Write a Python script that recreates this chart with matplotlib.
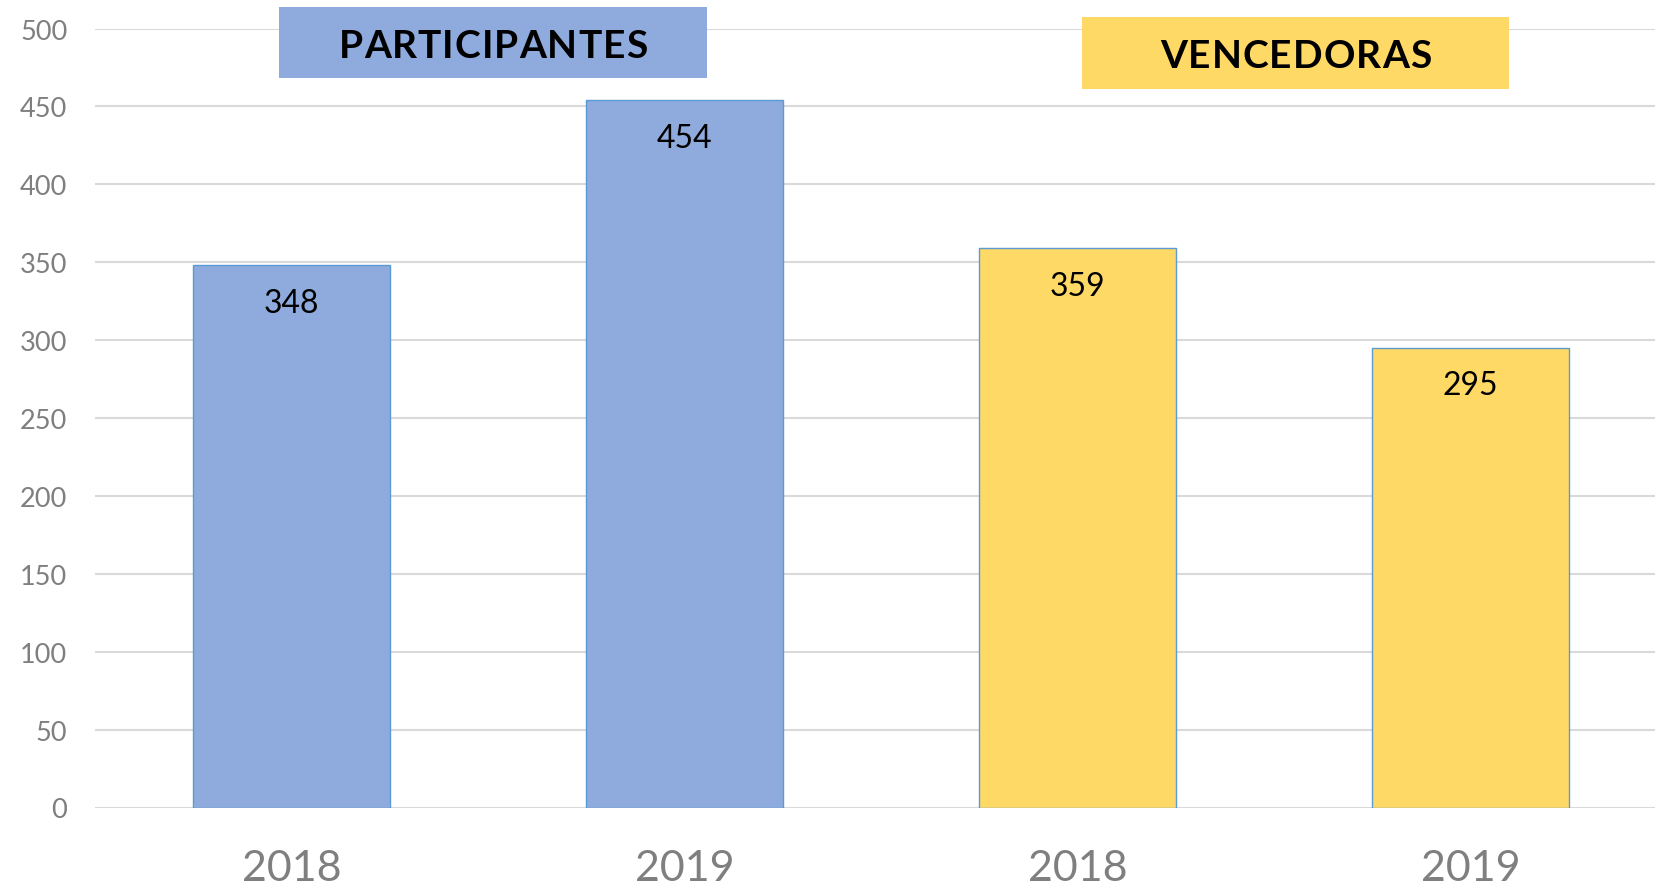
import matplotlib.pyplot as plt
from matplotlib.patches import Rectangle

plt.rcParams['font.family'] = ['Lato', 'DejaVu Sans']

# data
positions = [0, 1, 2, 3]
year_labels = ['2018', '2019', '2018', '2019']
values = [348, 454, 359, 295]
groups = ['PARTICIPANTES', 'PARTICIPANTES', 'VENCEDORAS', 'VENCEDORAS']

blue = '#8FAADC'
yellow = '#FFD966'
edge = '#5B9BD5'
colors = [blue if g == 'PARTICIPANTES' else yellow for g in groups]

W, H = 1655, 887
fig = plt.figure(figsize=(W / 100, H / 100), dpi=100)
ax = fig.add_axes([95 / W, 1 - 808.5 / H, 1 - 95 / W, (808.5 - 29.5) / H])

ax.set_axisbelow(True)
ax.yaxis.grid(True, color='#D9D9D9', linewidth=1.5)
bars = ax.bar(positions, values, width=0.5, color=colors, edgecolor=edge, linewidth=1.0)

for p, v in zip(positions, values):
    ax.annotate(str(v), (p, v), xytext=(0, -27), textcoords='offset points',
                ha='center', va='center', fontsize=23, color='black')

ax.set_ylim(0, 500)
ax.set_xlim(-0.5, 3.47)
ax.set_yticks(range(0, 501, 50))
ax.set_xticks(positions)
ax.set_xticklabels(year_labels)
ax.tick_params(axis='y', length=0, pad=20, labelsize=19.5, labelcolor='#7F7F7F')
ax.tick_params(axis='x', length=0, pad=30, labelsize=31, labelcolor='#7F7F7F')
for s in ax.spines.values():
    s.set_visible(False)

# header boxes (pixel coords from top-left), letters spread out a bit
renderer = fig.canvas.get_renderer()
headers = [('PARTICIPANTES', 278.6, 8.4, 707.2, 79.2, blue),
           ('VENCEDORAS', 1081.9, 17.9, 1509.4, 89.7, yellow)]
track = 1.0
hsize = 28
for label, x0, y0, x1, y1, c in headers:
    fig.add_artist(Rectangle((x0 / W, 1 - y1 / H), (x1 - x0) / W, (y1 - y0) / H,
                             transform=fig.transFigure, facecolor=c, edgecolor='none'))
    widths = []
    for ch in label:
        t = fig.text(0, 0, ch, fontsize=hsize, fontweight='bold')
        widths.append(t.get_window_extent(renderer).width)
        t.remove()
    total = sum(widths) + track * (len(label) - 1)
    x = (x0 + x1) / 2 - total / 2
    yc = 1 - ((y0 + y1) / 2 + 3) / H
    for ch, w in zip(label, widths):
        fig.text(x / W, yc, ch, ha='left', va='center', fontsize=hsize,
                 fontweight='bold', color='black')
        x += w + track

fig.savefig('out.png', dpi=100)
